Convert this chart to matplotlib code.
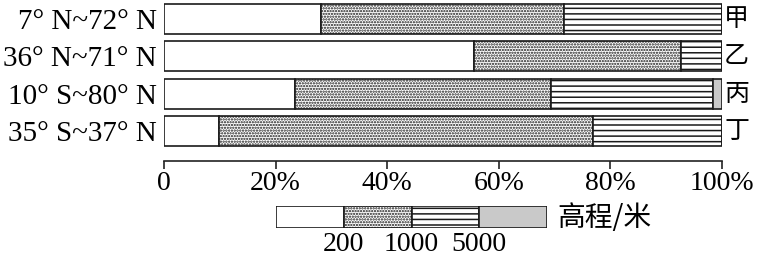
import matplotlib
matplotlib.use("Agg")
import matplotlib.pyplot as plt
import matplotlib.transforms as mtransforms

# 纬度范围 与 各高程段所占比例(%)
rows = ["7° N~72° N", "36° N~71° N", "10° S~80° N", "35° S~37° N"]
names = ["甲", "乙", "丙", "丁"]
seg_0_200 = [28.1, 55.6, 23.5, 9.9]
seg_200_1000 = [43.5, 37.0, 45.8, 67.0]
seg_1000_5000 = [28.4, 7.4, 29.1, 23.1]
seg_5000_up = [0.0, 0.0, 1.6, 0.0]
legend_ticks = ["200", "1000", "5000"]

serif = "Liberation Serif"
cjk = "Noto Sans CJK SC"
plt.rcParams["hatch.linewidth"] = 1.1
plt.rcParams["hatch.color"] = "#222222"

styles = [
    dict(color="white", hatch=None),
    dict(color="white", hatch="......"),
    dict(color="white", hatch="---"),
    dict(color="#c9c9c9", hatch=None),
]

fig = plt.figure(figsize=(7.63, 2.60), dpi=100)
ax = fig.add_axes([164 / 763, 1 - 161 / 260, 558 / 763, 161 / 260])

segs = [seg_0_200, seg_200_1000, seg_1000_5000, seg_5000_up]
ypos = list(range(len(rows)))
left = [0.0] * len(rows)
for vals, st in zip(segs, styles):
    ax.barh(ypos, vals, left=left, height=0.80, color=st["color"],
            hatch=st["hatch"], edgecolor="#1a1a1a", linewidth=1.2)
    left = [l + v for l, v in zip(left, vals)]

ax.set_xlim(0, 100)
ax.set_ylim(3.807, -0.509)
ax.set_yticks(ypos)
ax.set_yticklabels(rows, fontfamily=serif, fontsize=21)
ax.tick_params(axis="y", length=0, pad=5)
ax.set_xticks([0, 20, 40, 60, 80, 100])
ax.set_xticklabels(["0", "20%", "40%", "60%", "80%", "100%"],
                   fontfamily=serif, fontsize=20)
ax.tick_params(axis="x", length=6, width=1.2, pad=1, color="#222222")
for s in ["left", "right", "top"]:
    ax.spines[s].set_visible(False)
ax.spines["bottom"].set_linewidth(1.2)
ax.spines["bottom"].set_color("#222222")

trans = mtransforms.blended_transform_factory(ax.transAxes, ax.transData)
for i, n in enumerate(names):
    ax.text(1.004, i, n, transform=trans, ha="left", va="center",
            fontfamily=cjk, fontsize=18)

# 图例
lax = fig.add_axes([276 / 763, 1 - 228 / 260, 271 / 763, 22 / 260])
for k, st in enumerate(styles):
    lax.barh(0, 1, left=k, height=1, color=st["color"], hatch=st["hatch"],
             edgecolor="#1a1a1a", linewidth=1.2)
lax.set_xlim(0, 4)
lax.set_ylim(-0.5, 0.5)
lax.set_yticks([])
lax.set_xticks([1, 2, 3])
lax.set_xticklabels(legend_ticks, fontfamily=serif, fontsize=20)
lax.tick_params(axis="x", length=0, pad=3)
for s in lax.spines.values():
    s.set_visible(False)
fig.text(557 / 763, 1 - 218 / 260, "高程/米", fontfamily=cjk, fontsize=20,
         ha="left", va="center")

fig.savefig("out.png", dpi=100)
